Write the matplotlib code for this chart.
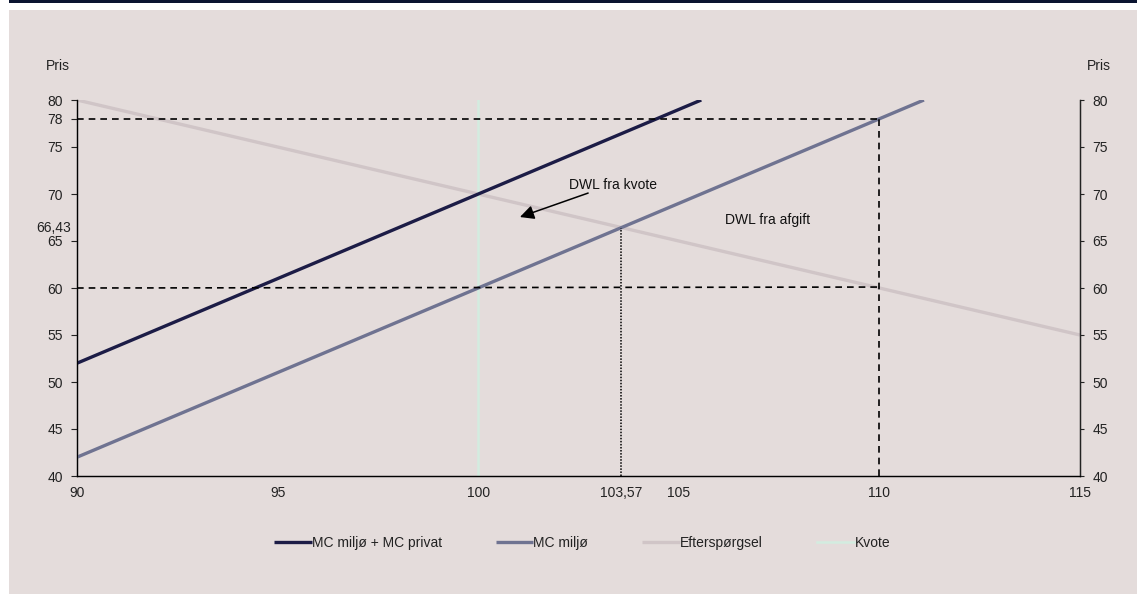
import matplotlib
matplotlib.use("Agg")
import matplotlib.pyplot as plt
from matplotlib.patches import Rectangle

plt.rcParams['font.family'] = ['Liberation Sans', 'DejaVu Sans']

# Quantities and prices
x_range = [90, 115]
mc_total_x = [90, 105.56]
mc_total_y = [52, 80]
mc_env_x = [90, 111.11]
mc_env_y = [42, 80]
demand_x = [90, 115]
demand_y = [80, 55]
quota_x = 100
tax_q = 110
tax_p = 78
tax_low = 60
eq_q = 103.57
eq_p = 66.43

y_ticks = [40, 45, 50, 55, 60, 65, 70, 75, 78, 80]
y_ticks_right = [40, 45, 50, 55, 60, 65, 70, 75, 80]
x_ticks = [90, 95, 100, 105, 110, 115]

c_total = '#1c1c46'
c_env = '#6f7391'
c_demand = '#d0c5c7'
c_quota = '#d3ece0'
bg = '#e4dcdb'
txt = '#222222'
fs = 10

fig = plt.figure(figsize=(11.37, 5.95), dpi=100, facecolor='white')
W, H = 1137, 595
fig.patches.append(Rectangle((9 / W, 1 - 3 / H), 1 - 9 / W, 3 / H, transform=fig.transFigure,
                             facecolor='#0a1430', edgecolor='none', zorder=-10))
fig.patches.append(Rectangle((9 / W, 1 / H), 1 - 9 / W, 1 - 11 / H, transform=fig.transFigure,
                             facecolor=bg, edgecolor='none', zorder=-10))

ax = fig.add_axes([77 / W, 1 - 476 / H, (1080 - 77) / W, (476 - 100) / H])
ax.set_facecolor('none')
ax.set_xlim(*x_range)
ax.set_ylim(40, 80)

ax.plot(demand_x, demand_y, color=c_demand, lw=2.4, label='Efterspørgsel', zorder=2, solid_capstyle='butt')
ax.plot(mc_env_x, mc_env_y, color=c_env, lw=2.4, label='MC miljø', zorder=3, solid_capstyle='butt')
ax.plot(mc_total_x, mc_total_y, color=c_total, lw=2.4, label='MC miljø + MC privat', zorder=3, solid_capstyle='butt')
ax.plot([quota_x, quota_x], [40, 80], color=c_quota, lw=1.8, label='Kvote', zorder=2)

# Reference lines for the tax and quota outcomes
ax.plot([90, tax_q], [tax_p, tax_p], color='black', lw=1.2, ls=(0, (4, 3)), zorder=4)
ax.plot([tax_q, tax_q], [40, tax_p], color='black', lw=1.2, ls=(0, (4, 3)), zorder=4)
ax.plot([90, tax_q], [tax_low, tax_low + 0.1], color='black', lw=1.2, ls=(0, (4, 3)), zorder=4)
ax.plot([eq_q, eq_q], [40, eq_p], color='black', lw=1.1, ls=(0, (1, 1)), zorder=4)

ax.annotate('', xy=(101.04, 67.55), xytext=(102.74, 70.1),
            arrowprops=dict(arrowstyle='-|>,head_length=0.6,head_width=0.3', color='black',
                            lw=1.1, mutation_scale=14, shrinkA=0, shrinkB=0))
ax.text(103.35, 70.95, 'DWL fra kvote', fontsize=10, ha='center', va='center', color='#111111')
ax.text(107.2, 67.2, 'DWL fra afgift', fontsize=10, ha='center', va='center', color='#111111')

ax.spines['top'].set_visible(False)
for s in ['left', 'bottom', 'right']:
    ax.spines[s].set_linewidth(1.0)
    ax.spines[s].set_color(txt)

ax.set_yticks(y_ticks)
ax.set_yticklabels([str(v) for v in y_ticks])
ax.set_xticks(x_ticks)
ax.set_xticklabels([str(v) for v in x_ticks])
ax.tick_params(axis='y', direction='out', length=4, width=0.8, labelsize=fs, colors=txt, pad=6)
ax.tick_params(axis='x', length=0, labelsize=fs, colors=txt, pad=7)

ax2 = ax.twinx()
ax2.set_ylim(40, 80)
ax2.set_yticks(y_ticks_right)
ax2.set_yticklabels([str(v) for v in y_ticks_right])
ax2.tick_params(axis='y', direction='out', length=3, width=0.8, labelsize=fs, colors=txt, pad=6)
ax2.spines['top'].set_visible(False)
ax2.spines['right'].set_color(txt)
ax2.set_facecolor('none')

# Value labels for the equilibrium under the tax
ax.annotate('66,43', xy=(0, 66.4), xycoords=ax.get_yaxis_transform(), xytext=(-4.5, 0),
            textcoords='offset points', ha='right', va='center', fontsize=fs, color=txt)
ax.annotate('103,57', xy=(eq_q, 0), xycoords=ax.get_xaxis_transform(), xytext=(0, -7.5),
            textcoords='offset points', ha='center', va='top', fontsize=fs, color=txt)

fig.text(58 / W, 1 - 66 / H, 'Pris', fontsize=fs, ha='center', va='center', color=txt)
fig.text(1099 / W, 1 - 66 / H, 'Pris', fontsize=fs, ha='center', va='center', color=txt)

handles, labels = ax.get_legend_handles_labels()
order = [2, 1, 0, 3]
leg = fig.legend([handles[i] for i in order], [labels[i] for i in order],
                 loc='center', bbox_to_anchor=(582 / W, 1 - 543 / H), ncol=4, frameon=False,
                 fontsize=10, handlelength=2.7, handletextpad=0.0, columnspacing=3.9)
for t in leg.get_texts():
    t.set_color(txt)

fig.savefig('out.png', dpi=100, facecolor='white')
